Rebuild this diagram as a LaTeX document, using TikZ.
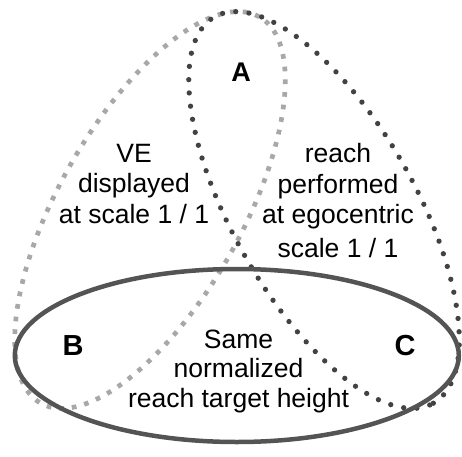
\documentclass[tikz,border=0pt]{standalone}
\usepackage{fontspec}
\setmainfont{Liberation Sans}
\definecolor{lightdash}{RGB}{168,168,168}
\definecolor{darkdot}{RGB}{66,66,66}
\definecolor{solidring}{RGB}{84,84,84}
\tikzset{
  grayring/.style={draw=lightdash, line width=4.7pt, dash pattern=on 4.7pt off 8pt},
  dotring/.style={draw=darkdot, line width=5.3pt, line cap=round, dash pattern=on 0pt off 13.3pt},
  mainring/.style={draw=solidring, line width=4.5pt},
  txt/.style={font=\fontsize{26.5}{30.5}\selectfont, align=center, inner sep=0pt, anchor=base},
  lbl/.style={font=\fontsize{29}{30}\selectfont\bfseries, inner sep=0pt, anchor=base}
}
\begin{document}
\begin{tikzpicture}[x=1pt,y=1pt]
\useasboundingbox (0,0) rectangle (462,456);
% left set (light gray dashed)
\draw[grayring, rotate around={60.5:(150,246)}] (150,246) ellipse [x radius=222, y radius=91.5];
% right set (dark dotted)
\draw[dotring, rotate around={-60.5:(324,246)}] (324,246) ellipse [x radius=222, y radius=91.5];
% bottom set (solid)
\draw[mainring] (236.8,100.5) ellipse [x radius=222, y radius=86.5];
% labels
\node[lbl, font=\fontsize{27}{30}\selectfont\bfseries] (A) at (241,374) {A};
\node[lbl] (B) at (73,101) {B};
\node[lbl] (C) at (405,101) {C};
\node[txt] (ve) at (134,233) {VE\\displayed\\at scale 1 / 1};
\node[txt] (reach) at (338,199) {reach\\performed\\at egocentric\\[3pt]scale 1 / 1};
\node[txt, font=\fontsize{26.5}{29.5}\selectfont] (same) at (238.5,49) {Same\\normalized\\reach target height};
\end{tikzpicture}
\end{document}
